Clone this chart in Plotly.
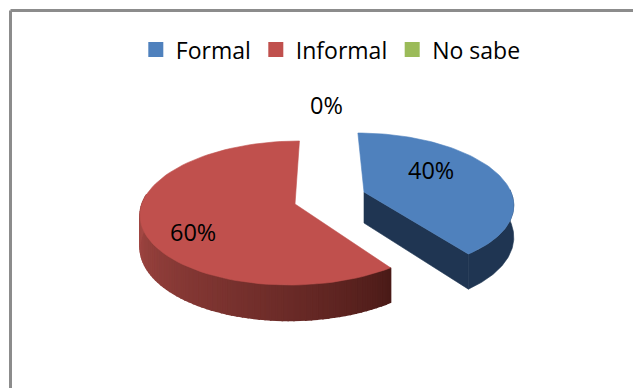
import math
import plotly.graph_objects as go

categories = ["Formal", "Informal", "No sabe"]
values = [40, 60, 0]
colors = ["#4F81BD", "#C0504D", "#9BBB59"]

DEPTH = 31
# slice name -> apex x, apex y, horizontal radius, skew, vertical radius, perspective
GEOM = {
    "Formal": (364, 192, 147, -7, 67.6, 0.146),
    "Informal": (295, 204, 153, 5, 70.9, 0.125),
}
LABEL_POS = {"Formal": (431, 170), "Informal": (193, 232), "No sabe": (326, 105)}

def project(theta_deg, r, geom, z=0):
    cx, cy, a, s, b, k = geom
    t = math.radians(theta_deg)
    u, v = r * math.sin(t), r * math.cos(t)
    w = 1 + k * v
    return cx + (a * u + s * v) / w, cy + (-b * v + z) / w

def arc(t0, t1, geom, z=0, n=80):
    pts = [project(t0 + (t1 - t0) * i / n, 1, geom, z) for i in range(n + 1)]
    return [p[0] for p in pts], [p[1] for p in pts]

def poly(fig, xs, ys, color, lw=0.6):
    fig.add_trace(go.Scatter(x=xs, y=ys, mode="lines", fill="toself", fillcolor=color,
                             line=dict(color=color, width=lw), showlegend=False, hoverinfo="skip"))

def mix(c0, c1, f):
    return "rgb(%d,%d,%d)" % tuple(round(c0[i] + (c1[i] - c0[i]) * f) for i in range(3))

total = sum(values)
spans = {}
start = 0
for cat, val in zip(categories, values):
    spans[cat] = (start, start + val / total * 360)
    start += val / total * 360

fig = go.Figure()

# Informal: outer wall with gradient, then top face
t0, t1 = spans["Informal"]
g = GEOM["Informal"]
steps = 70
wall_end = 278
for i in range(steps):
    a0 = t0 + (wall_end - t0) * i / steps
    a1 = t0 + (wall_end - t0) * (i + 1) / steps
    xt, yt = arc(a0, a1, g, 0, 3)
    xb, yb = arc(a0, a1, g, DEPTH, 3)
    poly(fig, xt + xb[::-1] + [xt[0]], yt + yb[::-1] + [yt[0]],
         mix((0x4A, 0x1A, 0x17), (0xA8, 0x4A, 0x46), (i / steps) ** 0.8), 1.6)
x, y = arc(t0, t1, g)
poly(fig, [g[0]] + x + [g[0]], [g[1]] + y + [g[1]], colors[1])

# Formal: cut face and wall, then top face
t0, t1 = spans["Formal"]
g = GEOM["Formal"]
wall = "#1F3552"
xt, yt = arc(88, t1, g, 0)
xb, yb = arc(88, t1, g, DEPTH)
poly(fig, xt + xb[::-1] + [xt[0]], yt + yb[::-1] + [yt[0]], wall)
ex, ey = project(t1, 1, g, 0)
ex2, ey2 = project(t1, 1, g, DEPTH)
ax2, ay2 = project(0, 0, g, DEPTH)
poly(fig, [g[0], ex, ex2, ax2, g[0]], [g[1], ey, ey2, ay2, g[1]], wall)
x, y = arc(t0, t1, g)
poly(fig, [g[0]] + x + [g[0]], [g[1]] + y + [g[1]], colors[0])

# legend entries
for cat, col in zip(categories, colors):
    fig.add_trace(go.Scatter(x=[None], y=[None], mode="markers", name=cat,
                             marker=dict(symbol="square", size=15, color=col)))

# chart frame (top and left only, the picture is cropped on the other sides)
frame = dict(color="#8C8C8C", width=3)
fig.add_shape(type="line", x0=10.5, x1=633, y0=10.5, y1=10.5, line=frame, layer="above")
fig.add_shape(type="line", x0=10.5, x1=10.5, y0=10.5, y1=388, line=frame, layer="above")

for cat, val in zip(categories, values):
    lx, ly = LABEL_POS[cat]
    fig.add_annotation(x=lx, y=ly, text=f"{round(val / total * 100)}%", showarrow=False,
                       font=dict(family="Open Sans", size=23.5, color="#000000"))

fig.update_layout(
    width=633, height=388, margin=dict(l=0, r=0, t=0, b=0),
    paper_bgcolor="white", plot_bgcolor="white",
    xaxis=dict(range=[0, 633], visible=False, fixedrange=True),
    yaxis=dict(range=[388, 0], visible=False, fixedrange=True),
    legend=dict(orientation="h", x=0.5226, xanchor="center", y=0.872, yanchor="middle",
                font=dict(family="Open Sans", size=23, color="#000000"),
                bgcolor="rgba(0,0,0,0)", itemwidth=30),
)
fig.write_html("out.html", config={"displayModeBar": False},
               post_script="document.body.style.margin='0';document.documentElement.style.overflow='hidden';")
